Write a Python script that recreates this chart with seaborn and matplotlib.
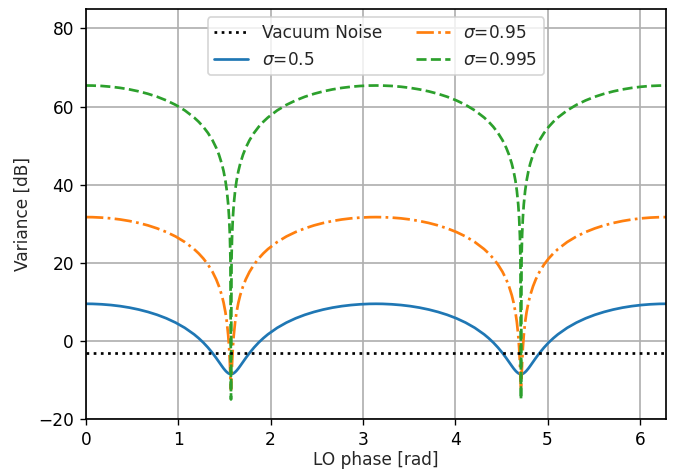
import matplotlib
matplotlib.use("Agg")
import matplotlib.pyplot as plt
import seaborn as sns
import numpy as np

# LO phase [rad]
phase = [
    0.0, 0.0708, 0.1708, 0.2708, 0.3708, 0.4708, 0.5708, 0.6708, 0.7708, 0.8708,
    0.9708, 1.0708, 1.1708, 1.2208, 1.2708, 1.3208, 1.3708, 1.4108, 1.4408, 1.4708,
    1.4908, 1.5108, 1.5258, 1.5408, 1.5508, 1.5588, 1.5648, 1.5708,
    1.5768, 1.5828, 1.5908, 1.6008, 1.6158, 1.6308, 1.6508, 1.6708, 1.7008, 1.7308,
    1.7708, 1.8208, 1.8708, 1.9208, 1.9708, 2.0708, 2.1708, 2.2708, 2.3708, 2.4708,
    2.5708, 2.6708, 2.7708, 2.8708, 2.9708, 3.0708, 3.1416,
    3.2124, 3.3124, 3.4124, 3.5124, 3.6124, 3.7124, 3.8124, 3.9124, 4.0124, 4.1124,
    4.2124, 4.3124, 4.3624, 4.4124, 4.4624, 4.5124, 4.5524, 4.5824, 4.6124, 4.6324,
    4.6524, 4.6674, 4.6824, 4.6924, 4.7004, 4.7064, 4.7124,
    4.7184, 4.7244, 4.7324, 4.7424, 4.7574, 4.7724, 4.7924, 4.8124, 4.8424, 4.8724,
    4.9124, 4.9624, 5.0124, 5.0624, 5.1124, 5.2124, 5.3124, 5.4124, 5.5124, 5.6124,
    5.7124, 5.8124, 5.9124, 6.0124, 6.1124, 6.2124, 6.2832,
]

var_s050 = [
    9.50, 9.48, 9.37, 9.18, 8.90, 8.52, 8.03, 7.42, 6.68, 5.78,
    4.68, 3.34, 1.68, 0.69, -0.42, -1.69, -3.12, -4.39, -5.40, -6.41,
    -7.06, -7.63, -7.99, -8.27, -8.40, -8.47, -8.50, -8.51,
    -8.50, -8.47, -8.40, -8.27, -7.99, -7.63, -7.06, -6.41, -5.40, -4.39,
    -3.12, -1.69, -0.42, 0.69, 1.68, 3.34, 4.68, 5.78, 6.68, 7.42,
    8.03, 8.52, 8.90, 9.18, 9.37, 9.48, 9.50,
    9.48, 9.37, 9.18, 8.90, 8.52, 8.03, 7.42, 6.68, 5.78, 4.68,
    3.34, 1.68, 0.69, -0.42, -1.69, -3.12, -4.39, -5.40, -6.41, -7.06,
    -7.63, -7.99, -8.27, -8.40, -8.47, -8.50, -8.51,
    -8.50, -8.47, -8.40, -8.27, -7.99, -7.63, -7.06, -6.41, -5.40, -4.39,
    -3.12, -1.69, -0.42, 0.69, 1.68, 3.34, 4.68, 5.78, 6.68, 7.42,
    8.03, 8.52, 8.90, 9.18, 9.37, 9.48, 9.50,
]

var_s095 = [
    31.70, 31.68, 31.57, 31.38, 31.09, 30.70, 30.20, 29.58, 28.81, 27.88,
    26.74, 25.31, 23.51, 22.40, 21.11, 19.57, 17.67, 15.75, 13.96, 11.70,
    9.78, 7.30, 4.84, 1.42, -1.89, -5.70, -9.61, -12.50,
    -9.61, -5.70, -1.89, 1.42, 4.84, 7.30, 9.78, 11.70, 13.96, 15.75,
    17.67, 19.57, 21.11, 22.40, 23.51, 25.31, 26.74, 27.88, 28.81, 29.58,
    30.20, 30.70, 31.09, 31.38, 31.57, 31.68, 31.70,
    31.68, 31.57, 31.38, 31.09, 30.70, 30.20, 29.58, 28.81, 27.88, 26.74,
    25.31, 23.51, 22.40, 21.11, 19.57, 17.67, 15.75, 13.96, 11.70, 9.78,
    7.30, 4.84, 1.42, -1.89, -5.70, -9.61, -12.50,
    -9.61, -5.70, -1.89, 1.42, 4.84, 7.30, 9.78, 11.70, 13.96, 15.75,
    17.67, 19.57, 21.11, 22.40, 23.51, 25.31, 26.74, 27.88, 28.81, 29.58,
    30.20, 30.70, 31.09, 31.38, 31.57, 31.68, 31.70,
]

var_s0995 = [
    65.40, 65.38, 65.28, 65.08, 64.79, 64.40, 63.90, 63.28, 62.52, 61.58,
    60.44, 59.02, 57.21, 56.11, 54.82, 53.27, 51.37, 49.45, 47.66, 45.39,
    43.46, 40.96, 38.46, 34.94, 31.42, 26.99, 20.97, -15.00,
    20.97, 26.99, 31.42, 34.94, 38.46, 40.96, 43.46, 45.39, 47.66, 49.45,
    51.37, 53.27, 54.82, 56.11, 57.21, 59.02, 60.44, 61.58, 62.52, 63.28,
    63.90, 64.40, 64.79, 65.08, 65.28, 65.38, 65.40,
    65.38, 65.28, 65.08, 64.79, 64.40, 63.90, 63.28, 62.52, 61.58, 60.44,
    59.02, 57.21, 56.11, 54.82, 53.27, 51.37, 49.45, 47.66, 45.39, 43.46,
    40.96, 38.46, 34.94, 31.42, 26.99, 20.97, -15.00,
    20.97, 26.99, 31.42, 34.94, 38.46, 40.96, 43.46, 45.39, 47.66, 49.45,
    51.37, 53.27, 54.82, 56.11, 57.21, 59.02, 60.44, 61.58, 62.52, 63.28,
    63.90, 64.40, 64.79, 65.08, 65.28, 65.38, 65.40,
]

vacuum_db = -3.01
labels = ["Vacuum Noise", r"$\sigma$=0.5", r"$\sigma$=0.95", r"$\sigma$=0.995"]
x_ticks = [0, 1, 2, 3, 4, 5, 6]
y_ticks = [-20, 0, 20, 40, 60, 80]

sns.set_style("ticks")
plt.rcParams["font.family"] = ["DejaVu Sans"]
plt.rcParams["font.size"] = 10

DPI = 122
fig = plt.figure(figsize=(684 / DPI, 472 / DPI), dpi=DPI)
ax = fig.add_axes([0.1257, 0.1123, 0.848, 0.8687])

ax.axhline(vacuum_db, color="black", linestyle=":", linewidth=1.6, label=labels[0], zorder=3)
sns.lineplot(x=phase, y=var_s050, ax=ax, color="#1f77b4", linestyle="-", linewidth=1.6,
             label=labels[1], sort=False)
sns.lineplot(x=phase, y=var_s095, ax=ax, color="#ff7f0e", linestyle="-.", linewidth=1.6,
             label=labels[2], sort=False)
sns.lineplot(x=phase, y=var_s0995, ax=ax, color="#2ca02c", linestyle="--", linewidth=1.6,
             label=labels[3], sort=False)

ax.set_xlim(0, 2 * np.pi)
ax.set_ylim(-20, 85)
ax.set_xticks(x_ticks)
ax.set_yticks(y_ticks)
ax.grid(True, color="#b0b0b0", linewidth=1.0)
ax.set_axisbelow(True)
for sp in ax.spines.values():
    sp.set_visible(True)
    sp.set_color("black")
    sp.set_linewidth(1.0)
ax.tick_params(direction="out", length=3.5, width=0.8, colors="black")
ax.set_xlabel("LO phase [rad]", labelpad=1.5)
ax.set_ylabel("Variance [dB]")
ax.legend(loc="upper center", ncol=2, frameon=True, fancybox=True, framealpha=0.8,
          edgecolor="#cccccc")

fig.savefig("out.png", dpi=DPI)
